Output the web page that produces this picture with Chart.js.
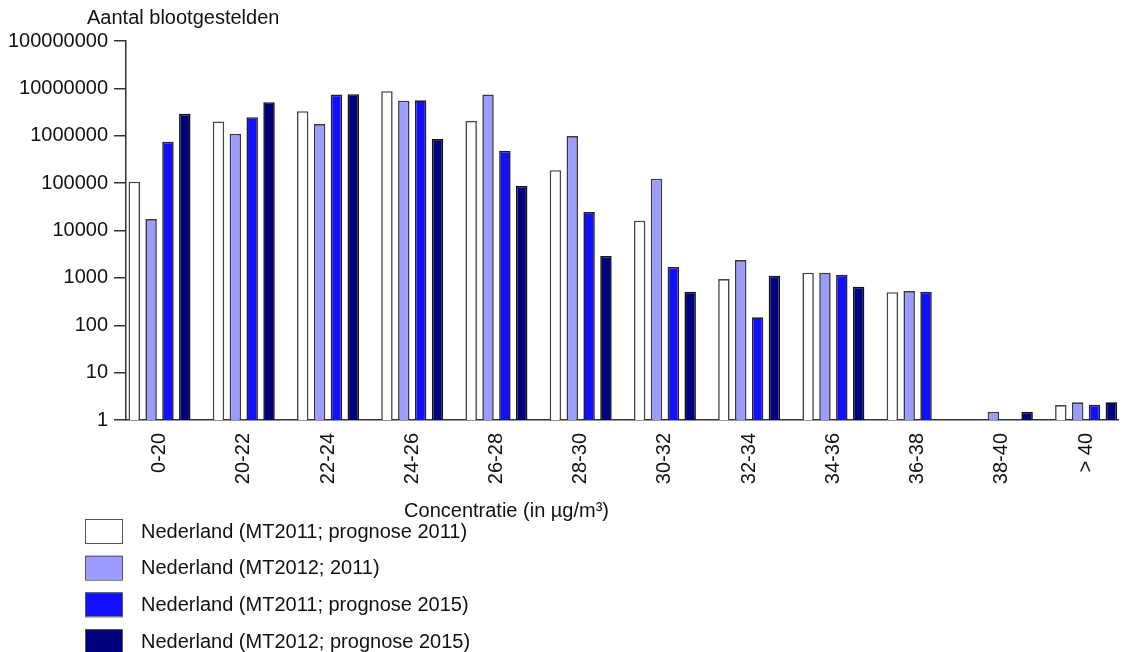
<!DOCTYPE html>
<html>
<head>
<meta charset="utf-8">
<script src="https://cdn.jsdelivr.net/npm/chart.js@4/dist/chart.umd.min.js"></script>
<style>
  html, body { margin: 0; padding: 0; background: #ffffff; }
  #wrap { width: 1125px; height: 652px; position: relative; }
  canvas { display: block; }
</style>
</head>
<body>
<div id="wrap"><canvas id="c" width="1125" height="652"></canvas></div>
<script>
// ---- data ----
const categories = ['0-20', '20-22', '22-24', '24-26', '26-28', '28-30', '30-32', '32-34', '34-36', '36-38', '38-40', '> 40'];
const seriesLabels = [
  'Nederland (MT2011; prognose 2011)',
  'Nederland (MT2012; 2011)',
  'Nederland (MT2011; prognose 2015)',
  'Nederland (MT2012; prognose 2015)'
];
const mt2011_prognose2011 = [107000, 2000000, 3300000, 8700000, 2070000, 188000, 16100, 945, 1290, 500, 1, 2.07];
const mt2012_2011         = [17400, 1100000, 1760000, 5500000, 7450000, 985000, 124000, 2380, 1280, 527, 1.48, 2.36];
const mt2011_prognose2015 = [743000, 2460000, 7400000, 5600000, 480000, 24500, 1700, 147, 1165, 510, 1, 2.1];
const mt2012_prognose2015 = [2900000, 5100000, 7550000, 850000, 87000, 2900, 510, 1110, 650, 1, 1.5, 2.36];
const yTickValues = [1, 10, 100, 1000, 10000, 100000, 1000000, 10000000, 100000000];
const yTickLabels = ['1', '10', '100', '1000', '10000', '100000', '1000000', '10000000', '100000000'];
const yTitle = 'Aantal blootgestelden';
const xTitle = 'Concentratie (in µg/m³)';

// ---- styles ----
const FONT = "'Liberation Sans', Arial, Helvetica, sans-serif";
const FONT_SIZE = 20;
const fills = ['#ffffff', '#9c9cff', '#1010ff', '#00007f'];
const borders = ['#444444', '#3a3a3a', '#222222', '#111111'];
const allSeries = [mt2011_prognose2011, mt2012_2011, mt2011_prognose2015, mt2012_prognose2015];

const datasets = allSeries.map((vals, k) => ({
  label: seriesLabels[k],
  data: vals.map((v, i) => ({ x: i, y: v })),
  backgroundColor: fills[k],
  borderColor: borders[k],
  borderWidth: 1.6,
  categoryPercentage: 0.80,
  barPercentage: 0.68
}));

const textPlugin = {
  id: 'extraText',
  afterDraw(chart) {
    const ctx = chart.ctx;
    const area = chart.chartArea;
    ctx.save();
    ctx.fillStyle = '#111111';
    ctx.font = FONT_SIZE + 'px ' + FONT;
    // y-axis title above the axis
    ctx.textAlign = 'left';
    ctx.textBaseline = 'alphabetic';
    ctx.fillText(yTitle, area.left - 39, area.top - 17);
    // x-axis title
    ctx.textAlign = 'right';
    ctx.fillText(xTitle, 609, 517);
    // legend (vertical list)
    chart.data.datasets.forEach((ds, i) => {
      const bx = 85, by = 519 + i * 36.7, bw = 37, bh = 24;
      ctx.fillStyle = ds.backgroundColor;
      ctx.fillRect(bx, by, bw, bh);
      ctx.strokeStyle = '#555555';
      ctx.lineWidth = 1;
      ctx.strokeRect(bx + 0.5, by + 0.5, bw, bh);
      ctx.fillStyle = '#111111';
      ctx.textAlign = 'left';
      ctx.textBaseline = 'middle';
      ctx.fillText(ds.label, 141, by + bh / 2 + 1);
    });
    ctx.restore();
  }
};

new Chart(document.getElementById('c'), {
  type: 'bar',
  data: { datasets },
  options: {
    responsive: false,
    animation: false,
    devicePixelRatio: 1,
    layout: { padding: { top: 41, left: 0, right: 7, bottom: 0 } },
    plugins: {
      legend: { display: false },
      title: { display: false },
      tooltip: { enabled: false }
    },
    scales: {
      x: {
        type: 'linear',
        min: -0.398,
        max: 11.379,
        offset: false,
        grid: { display: false },
        border: { display: true, color: '#333333', width: 1.5 },
        ticks: {
          autoSkip: false,
          minRotation: 90,
          maxRotation: 90,
          padding: 5,
          color: '#111111',
          font: { family: FONT, size: FONT_SIZE },
          callback: (v) => categories[v]
        },
        afterBuildTicks: (s) => { s.ticks = categories.map((c, i) => ({ value: i })); },
        afterFit: (s) => { s.height = 232; }
      },
      y: {
        type: 'logarithmic',
        min: 1,
        max: 100000000,
        grid: { display: true, drawOnChartArea: false, drawTicks: true, tickLength: 12, color: '#333333', lineWidth: 1.5 },
        border: { display: true, color: '#333333', width: 1.5 },
        ticks: {
          padding: 6,
          color: '#111111',
          font: { family: FONT, size: FONT_SIZE },
          callback: (v, i) => yTickLabels[i]
        },
        afterBuildTicks: (s) => { s.ticks = yTickValues.map(v => ({ value: v })); },
        afterFit: (s) => { s.width = 126; }
      }
    }
  },
  plugins: [textPlugin]
});
</script>
</body>
</html>
